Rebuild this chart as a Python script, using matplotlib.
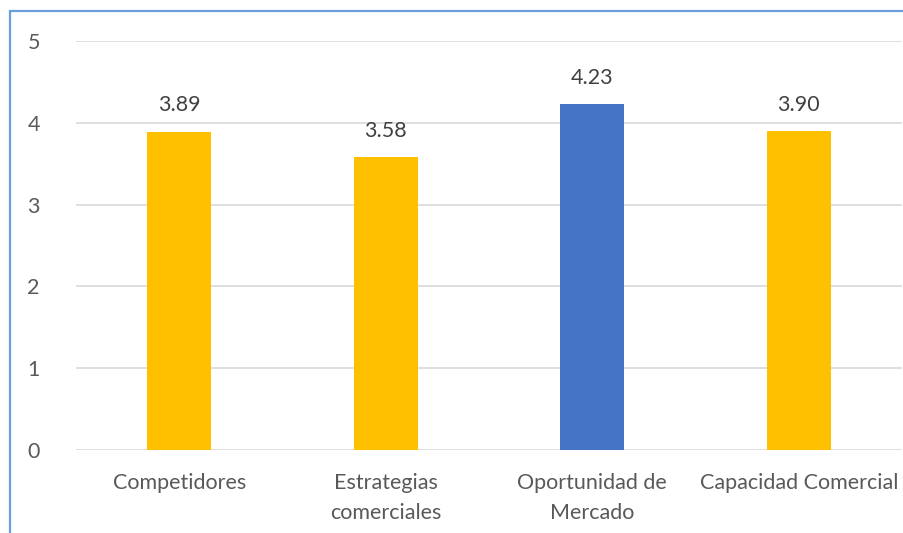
import matplotlib.pyplot as plt
from matplotlib.patches import Rectangle

categories = ["Competidores", "Estrategias\ncomerciales", "Oportunidad de\nMercado", "Capacidad Comercial"]
values = [3.89, 3.58, 4.23, 3.90]
colors = ["#FFC000", "#FFC000", "#4472C4", "#FFC000"]
labels = ["3.89", "3.58", "4.23", "3.90"]

plt.rcParams["font.family"] = ["Lato", "DejaVu Sans"]

fig = plt.figure(figsize=(9.04, 5.33), dpi=100)
ax = fig.add_axes([0.084, 0.156, 0.914, 0.767])

x = range(len(categories))
ax.bar(x, values, width=0.31, color=colors, zorder=3)
for xi, v, lab in zip(x, values, labels):
    ax.text(xi, v + 0.2, lab, ha="center", va="bottom", fontsize=15.5, color="#404040")

ax.set_xlim(-0.5, 3.5)
ax.set_ylim(0, 5)
ax.set_yticks([0, 1, 2, 3, 4, 5])
ax.set_xticks(list(x))
ax.set_xticklabels(categories, fontsize=15.5, color="#595959", linespacing=1.6)
ax.tick_params(axis="y", labelsize=15.5, labelcolor="#595959", length=0, pad=26)
ax.tick_params(axis="x", length=0, pad=17)
ax.grid(axis="y", color="#D9D9D9", linewidth=1.2, zorder=0)
for s in ax.spines.values():
    s.set_visible(False)

# blue frame around the chart (right and bottom edges are cut off)
fig.patches.append(Rectangle((9.5 / 904, -0.1), 1.2, 1 - 11.5 / 533 + 0.1,
                             transform=fig.transFigure, fill=False,
                             edgecolor="#6A9FDB", linewidth=1.6))

plt.savefig("out.png")
